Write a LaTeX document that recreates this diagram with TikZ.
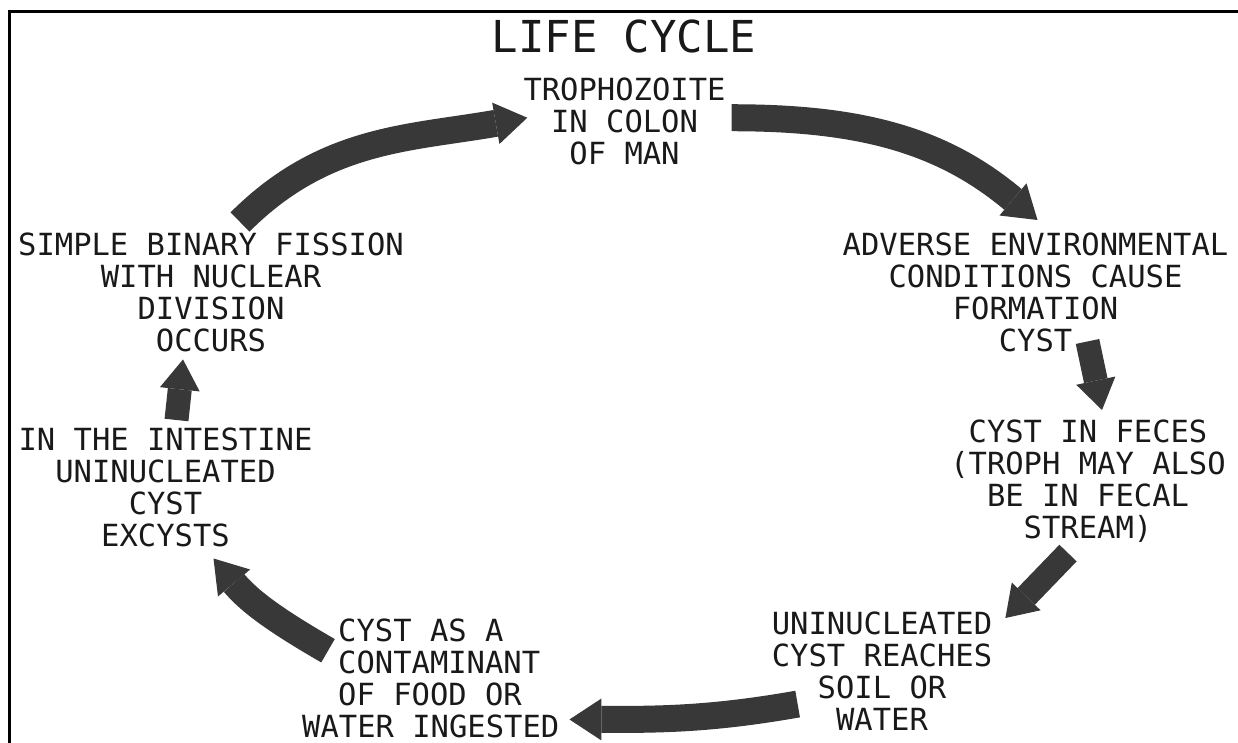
\documentclass[tikz,border=0pt]{standalone}
\usepackage{fontspec}
\newfontfamily\letterfont{DejaVu Sans Mono}
\usetikzlibrary{arrows.meta}
\definecolor{arrowgray}{HTML}{383838}

\begin{document}
\begin{tikzpicture}[
    x=1pt, y=1pt,
    stage/.style={align=center, inner sep=0pt, anchor=north, text=black!90,
        font=\letterfont\fontsize{30.5}{32}\selectfont},
    bigarrow/.style={draw=arrowgray, line width=27pt,
        -{Triangle[width=42pt,length=32pt,line width=0pt]}},
    smallarrow/.style={draw=arrowgray, line width=24pt,
        -{Triangle[width=40pt,length=30pt,line width=0pt]}}
]
\useasboundingbox (0,0) rectangle (1238,-743);

% frame
\draw[line width=3pt] (9,-743) -- (9,-11.5) -- (1238,-11.5);

\node[stage, font=\letterfont\fontsize{44}{44}\selectfont] (title) at (624,-20) {LIFE CYCLE};

\node[stage] (troph) at (624.5,-78) {TROPHOZOITE\\IN COLON\\OF MAN};
\node[stage] (adverse) at (1035.5,-233) {ADVERSE ENVIRONMENTAL\\CONDITIONS CAUSE\\FORMATION\\CYST};
\node[stage] (feces) at (1088,-420) {CYST IN FECES\\(TROPH MAY ALSO\\BE IN FECAL\\STREAM)};
\node[stage] (reaches) at (882,-612) {UNINUCLEATED\\CYST REACHES\\SOIL OR\\WATER};
\node[stage, align=left, anchor=north west] (ingested) at (338,-619)
    {CYST AS A\\CONTAMINANT\\OF FOOD OR\\\hspace*{-36pt}WATER INGESTED};
\node[stage] (intestine) at (165.5,-428) {IN THE INTESTINE\\UNINUCLEATED\\CYST\\EXCYSTS};
\node[stage] (fission) at (211,-233) {SIMPLE BINARY FISSION\\WITH NUCLEAR\\DIVISION\\OCCURS};

% the cycle
\draw[bigarrow] ([xshift=29pt,yshift=11pt]fission.north) to[out=45,in=190] ([xshift=4pt,yshift=4pt]troph.west);
\draw[bigarrow] ([xshift=6pt,yshift=4pt]troph.east) to[out=0,in=140] ([xshift=2pt,yshift=13pt]adverse.north);
\draw[smallarrow] ([xshift=52pt,yshift=11pt]adverse.south) -- ([xshift=14pt,yshift=10pt]feces.north);
\draw[smallarrow] ([xshift=-20pt,yshift=-10pt]feces.south) -- ([xshift=13pt,yshift=-6pt]reaches.north east);
\draw[bigarrow] ([xshift=26pt,yshift=27pt]reaches.south west) to[out=190,in=0] ([xshift=10pt,yshift=19pt]ingested.south east);
\draw[bigarrow] ([xshift=-10pt,yshift=28pt]ingested.west) to[out=150,in=-50] ([xshift=48pt,yshift=-11pt]intestine.south);
\draw[smallarrow] ([xshift=11pt,yshift=8pt]intestine.north) -- ([xshift=-28pt,yshift=-7pt]fission.south);

\end{tikzpicture}
\end{document}
